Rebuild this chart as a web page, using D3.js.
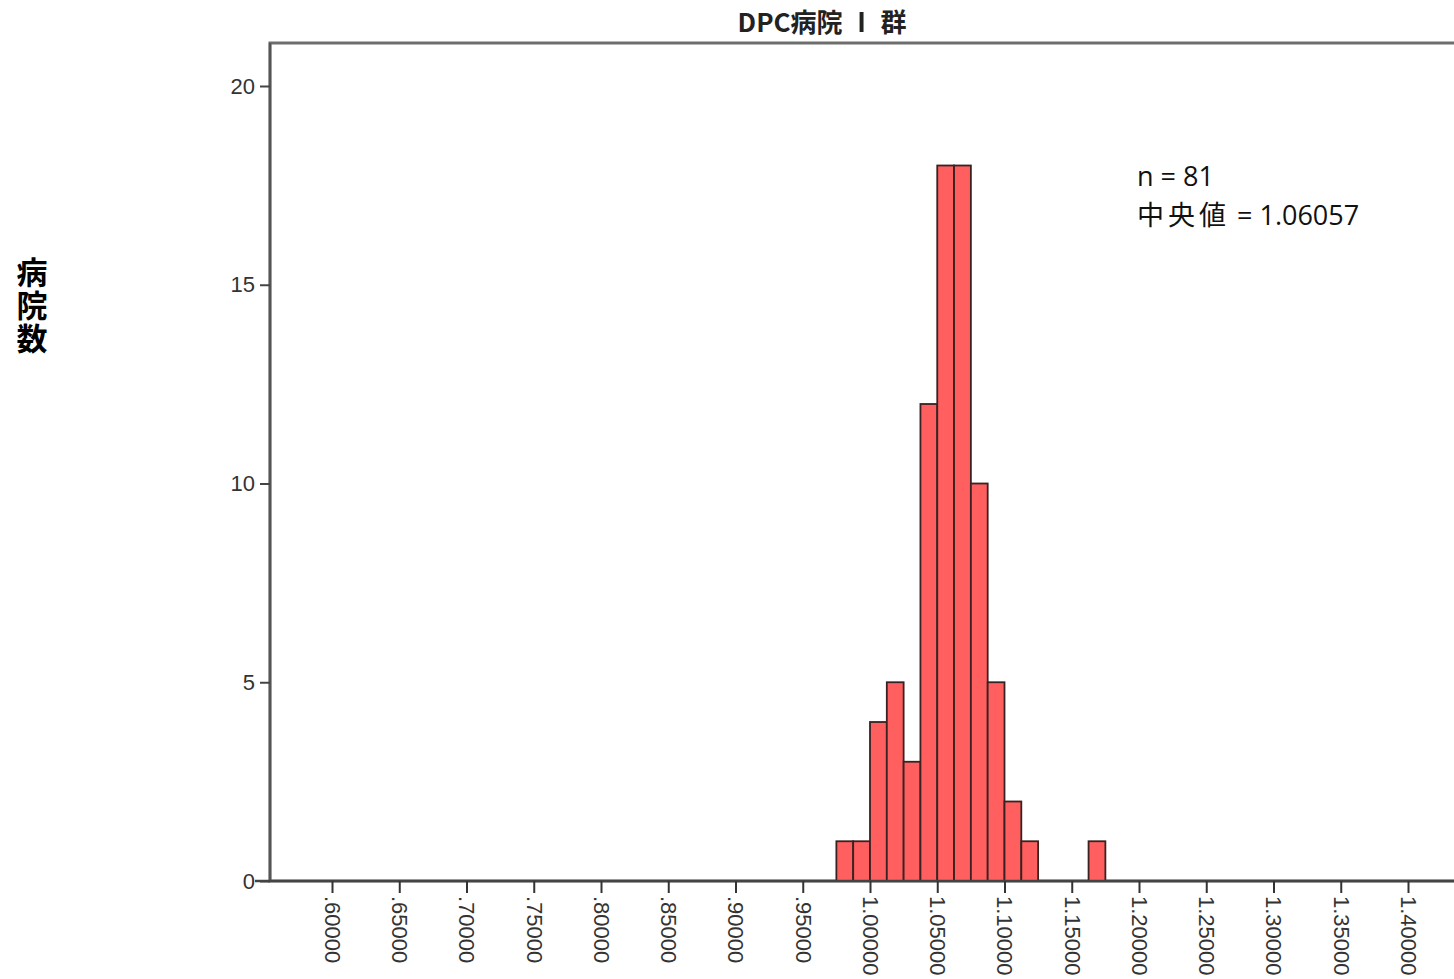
<!DOCTYPE html>
<html>
<head>
<meta charset="utf-8">
<script src="https://cdn.jsdelivr.net/npm/d3@7"></script>
<style>
  html, body { margin: 0; padding: 0; background: #ffffff; }
  svg { display: block; }
</style>
</head>
<body>
<svg id="chart" width="1454" height="979"></svg>
<script>
// ---- data ----
const binStarts = [0.975, 0.9875, 1.0, 1.0125, 1.025, 1.0375, 1.05, 1.0625, 1.075, 1.0875, 1.1, 1.1125, 1.1625];
const binCounts = [1, 1, 4, 5, 3, 12, 18, 18, 10, 5, 2, 1, 1];
const binWidth = 0.0125;
const xTickValues = [0.60, 0.65, 0.70, 0.75, 0.80, 0.85, 0.90, 0.95, 1.00, 1.05, 1.10, 1.15, 1.20, 1.25, 1.30, 1.35, 1.40];
const xTickLabels = [".60000", ".65000", ".70000", ".75000", ".80000", ".85000", ".90000", ".95000",
                     "1.00000", "1.05000", "1.10000", "1.15000", "1.20000", "1.25000", "1.30000", "1.35000", "1.40000"];
const yTickValues = [0, 5, 10, 15, 20];
const yTickLabels = ["0", "5", "10", "15", "20"];
const titleText = "DPC病院 Ⅰ 群";
const yAxisTitle = "病院数";
const annotationLines = ["n = 81", "中央値 = 1.06057"];

// ---- layout ----
const svg = d3.select("#chart");
const plotLeft = 270, plotTop = 43, plotBottom = 881;
const x = d3.scaleLinear().domain([0.60, 1.40]).range([332, 1408]);
const y = d3.scaleLinear().domain([0, 20]).range([881, 86]);

// frame (extends past the view on the right)
svg.append("rect")
  .attr("x", plotLeft).attr("y", plotTop)
  .attr("width", 1600).attr("height", plotBottom - plotTop)
  .attr("fill", "none").attr("stroke", "#6e6e6e").attr("stroke-width", 3);

// bars
svg.append("g").selectAll("rect")
  .data(binStarts.map((s, i) => ({ s, c: binCounts[i] })))
  .join("rect")
  .attr("x", d => x(d.s))
  .attr("y", d => y(d.c))
  .attr("width", d => x(d.s + binWidth) - x(d.s))
  .attr("height", d => y(0) - y(d.c))
  .attr("fill", "#ff5f5f")
  .attr("stroke", "#3a2222")
  .attr("stroke-width", 1.8);

// y axis
const yAxis = d3.axisLeft(y)
  .tickValues(yTickValues)
  .tickFormat((d, i) => yTickLabels[i])
  .tickSize(10).tickSizeOuter(0).tickPadding(5);
const gy = svg.append("g").attr("transform", `translate(${plotLeft},0)`).call(yAxis);
gy.select(".domain").attr("stroke", "#555").attr("stroke-width", 2.5)
  .attr("d", `M0,${plotTop}V${plotBottom}`);
gy.selectAll(".tick line").attr("stroke", "#444").attr("stroke-width", 2);
gy.selectAll(".tick text")
  .attr("font-family", "'Liberation Sans', Arial, sans-serif")
  .attr("font-size", 22).attr("fill", "#333");

// x axis
const xAxis = d3.axisBottom(x)
  .tickValues(xTickValues)
  .tickFormat((d, i) => xTickLabels[i])
  .tickSize(12).tickSizeOuter(0);
const gx = svg.append("g").attr("transform", `translate(0,${plotBottom})`).call(xAxis);
gx.select(".domain").attr("stroke", "#444").attr("stroke-width", 2.5)
  .attr("d", `M255,0H1600`);
gx.selectAll(".tick line").attr("stroke", "#333").attr("stroke-width", 2);
gx.selectAll(".tick text")
  .attr("font-family", "'Liberation Sans', Arial, sans-serif")
  .attr("font-size", 22).attr("fill", "#333")
  .attr("transform", "translate(0,15) rotate(90)")
  .attr("x", 0).attr("y", 0).attr("dy", "0.35em")
  .attr("text-anchor", "start");

// title
svg.append("text")
  .attr("x", 822).attr("y", 32)
  .attr("text-anchor", "middle")
  .attr("font-family", "'Noto Sans CJK JP', sans-serif")
  .attr("font-weight", "bold").attr("font-size", 26).attr("fill", "#222")
  .text(titleText);

// y axis title (vertical writing)
svg.append("text")
  .attr("x", 32).attr("y", 257)
  .attr("writing-mode", "tb")
  .attr("letter-spacing", 2)
  .attr("font-family", "'Noto Sans CJK JP', sans-serif")
  .attr("font-weight", "bold").attr("font-size", 31).attr("fill", "#000")
  .text(yAxisTitle);

// annotation: one text per line, sibling tspans for CJK / Latin runs
const cjk = /[\u3000-\u9fff]+/g;
const annY = [186, 225];
annotationLines.forEach((d, i) => {
  const t = svg.append("text")
    .attr("x", 1137).attr("y", annY[i])
    .attr("font-family", "'Open Sans', 'Noto Sans CJK JP', sans-serif")
    .attr("font-size", 26).attr("fill", "#111");
  let last = 0;
  d.replace(cjk, (m, off) => {
    if (off > last) t.append("tspan").text(d.slice(last, off));
    t.append("tspan").attr("font-family", "'Noto Sans CJK JP', sans-serif")
      .attr("font-size", 27).attr("letter-spacing", 4).text(m);
    last = off + m.length;
    return m;
  });
  if (last < d.length) t.append("tspan").attr("font-size", 27).text(d.slice(last));
});
</script>
</body>
</html>
